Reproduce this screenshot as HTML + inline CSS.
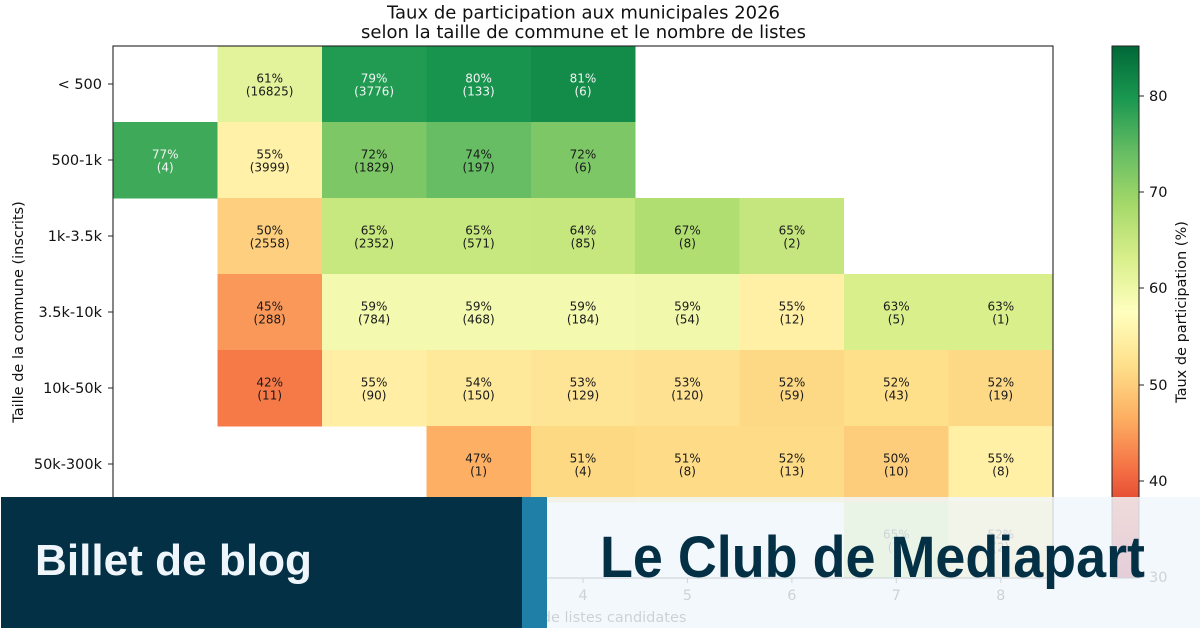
<!DOCTYPE html>
<html>
<head>
<meta charset="utf-8">
<style>
html,body{margin:0;padding:0;background:#fff;}
svg{display:block;}
text{font-family:"DejaVu Sans","Liberation Sans",sans-serif;}
.ann{font-size:12px;text-anchor:middle;fill:#1a1a1a;}
.w{fill:#f4f4f4;}
.tk{font-size:14.5px;fill:#111;}
</style>
</head>
<body>
<svg width="1200" height="628" viewBox="0 0 1200 628" xmlns="http://www.w3.org/2000/svg">
<defs>
<linearGradient id="cb" x1="0" y1="1" x2="0" y2="0">
<stop offset="0" stop-color="#a50026"/>
<stop offset="0.1" stop-color="#d73027"/>
<stop offset="0.2" stop-color="#f46d43"/>
<stop offset="0.3" stop-color="#fdae61"/>
<stop offset="0.4" stop-color="#fee08b"/>
<stop offset="0.5" stop-color="#ffffbf"/>
<stop offset="0.6" stop-color="#d9ef8b"/>
<stop offset="0.7" stop-color="#a6d96a"/>
<stop offset="0.8" stop-color="#66bd63"/>
<stop offset="0.9" stop-color="#1a9850"/>
<stop offset="1" stop-color="#006837"/>
</linearGradient>
</defs>
<rect width="1200" height="628" fill="#fff"/>

<!-- Title -->
<text x="583.5" y="18.5" font-size="18" text-anchor="middle" fill="#111">Taux de participation aux municipales 2026</text>
<text x="583.5" y="38" font-size="18" text-anchor="middle" fill="#111">selon la taille de commune et le nombre de listes</text>

<!-- Cells -->
<g shape-rendering="crispEdges">
<rect x="217.4" y="46" width="104.9" height="76.5" fill="#e3f39b"/>
<rect x="321.9" y="46" width="104.9" height="76.5" fill="#219b52"/>
<rect x="426.3" y="46" width="104.9" height="76.5" fill="#18944e"/>
<rect x="530.8" y="46" width="104.5" height="76.5" fill="#138b49"/>
<rect x="113" y="122" width="104.9" height="76.5" fill="#3da959"/>
<rect x="217.4" y="122" width="104.9" height="76.5" fill="#fff2a8"/>
<rect x="321.9" y="122" width="104.9" height="76.5" fill="#7dc766"/>
<rect x="426.3" y="122" width="104.9" height="76.5" fill="#66bd63"/>
<rect x="530.8" y="122" width="104.5" height="76.5" fill="#7dc766"/>
<rect x="217.4" y="198" width="104.9" height="76.5" fill="#fdcf7e"/>
<rect x="321.9" y="198" width="104.9" height="76.5" fill="#c7e77f"/>
<rect x="426.3" y="198" width="104.9" height="76.5" fill="#c7e77f"/>
<rect x="530.8" y="198" width="104.9" height="76.5" fill="#c6e67e"/>
<rect x="635.2" y="198" width="104.9" height="76.5" fill="#b1de71"/>
<rect x="739.7" y="198" width="104.5" height="76.5" fill="#c5e67e"/>
<rect x="217.4" y="274" width="104.9" height="76.5" fill="#f99858"/>
<rect x="321.9" y="274" width="104.9" height="76.5" fill="#f3f9af"/>
<rect x="426.3" y="274" width="104.9" height="76.5" fill="#f3f9af"/>
<rect x="530.8" y="274" width="104.9" height="76.5" fill="#f3f9af"/>
<rect x="635.2" y="274" width="104.9" height="76.5" fill="#f1f8ac"/>
<rect x="739.7" y="274" width="104.9" height="76.5" fill="#fff0a6"/>
<rect x="844.1" y="274" width="104.9" height="76.5" fill="#d9ef8b"/>
<rect x="948.6" y="274" width="104.4" height="76.5" fill="#d9ef8b"/>
<rect x="217.4" y="350" width="104.9" height="76.5" fill="#f67948"/>
<rect x="321.9" y="350" width="104.9" height="76.5" fill="#ffeea3"/>
<rect x="426.3" y="350" width="104.9" height="76.5" fill="#fee89a"/>
<rect x="530.8" y="350" width="104.9" height="76.5" fill="#fee495"/>
<rect x="635.2" y="350" width="104.9" height="76.5" fill="#fee291"/>
<rect x="739.7" y="350" width="104.9" height="76.5" fill="#fdd985"/>
<rect x="844.1" y="350" width="104.9" height="76.5" fill="#fedf8a"/>
<rect x="948.6" y="350" width="104.4" height="76.5" fill="#fdd985"/>
<rect x="426.3" y="426" width="104.9" height="76.5" fill="#fdb063"/>
<rect x="530.8" y="426" width="104.9" height="76.5" fill="#fed984"/>
<rect x="635.2" y="426" width="104.9" height="76.5" fill="#fedc87"/>
<rect x="739.7" y="426" width="104.9" height="76.5" fill="#fedc87"/>
<rect x="844.1" y="426" width="104.9" height="76.5" fill="#fdcd7c"/>
<rect x="948.6" y="426" width="104.4" height="76.5" fill="#fff0a6"/>
<rect x="844.1" y="502" width="104.9" height="76" fill="#c7e77f"/>
<rect x="948.6" y="502" width="104.4" height="76" fill="#fee08b"/>
</g>

<!-- Annotations -->
<g class="ann">
<text x="269.7" y="82.5">61%</text><text x="269.7" y="95.5">(16825)</text>
<text x="374.1" y="82.5" class="w">79%</text><text x="374.1" y="95.5" class="w">(3776)</text>
<text x="478.6" y="82.5" class="w">80%</text><text x="478.6" y="95.5" class="w">(133)</text>
<text x="583" y="82.5" class="w">81%</text><text x="583" y="95.5" class="w">(6)</text>

<text x="165.2" y="158.5" class="w">77%</text><text x="165.2" y="171.5" class="w">(4)</text>
<text x="269.7" y="158.5">55%</text><text x="269.7" y="171.5">(3999)</text>
<text x="374.1" y="158.5">72%</text><text x="374.1" y="171.5">(1829)</text>
<text x="478.6" y="158.5">74%</text><text x="478.6" y="171.5">(197)</text>
<text x="583" y="158.5">72%</text><text x="583" y="171.5">(6)</text>

<text x="269.7" y="234.5">50%</text><text x="269.7" y="247.5">(2558)</text>
<text x="374.1" y="234.5">65%</text><text x="374.1" y="247.5">(2352)</text>
<text x="478.6" y="234.5">65%</text><text x="478.6" y="247.5">(571)</text>
<text x="583" y="234.5">64%</text><text x="583" y="247.5">(85)</text>
<text x="687.4" y="234.5">67%</text><text x="687.4" y="247.5">(8)</text>
<text x="791.9" y="234.5">65%</text><text x="791.9" y="247.5">(2)</text>

<text x="269.7" y="310.5">45%</text><text x="269.7" y="323.5">(288)</text>
<text x="374.1" y="310.5">59%</text><text x="374.1" y="323.5">(784)</text>
<text x="478.6" y="310.5">59%</text><text x="478.6" y="323.5">(468)</text>
<text x="583" y="310.5">59%</text><text x="583" y="323.5">(184)</text>
<text x="687.4" y="310.5">59%</text><text x="687.4" y="323.5">(54)</text>
<text x="791.9" y="310.5">55%</text><text x="791.9" y="323.5">(12)</text>
<text x="896.3" y="310.5">63%</text><text x="896.3" y="323.5">(5)</text>
<text x="1000.8" y="310.5">63%</text><text x="1000.8" y="323.5">(1)</text>

<text x="269.7" y="386.5">42%</text><text x="269.7" y="399.5">(11)</text>
<text x="374.1" y="386.5">55%</text><text x="374.1" y="399.5">(90)</text>
<text x="478.6" y="386.5">54%</text><text x="478.6" y="399.5">(150)</text>
<text x="583" y="386.5">53%</text><text x="583" y="399.5">(129)</text>
<text x="687.4" y="386.5">53%</text><text x="687.4" y="399.5">(120)</text>
<text x="791.9" y="386.5">52%</text><text x="791.9" y="399.5">(59)</text>
<text x="896.3" y="386.5">52%</text><text x="896.3" y="399.5">(43)</text>
<text x="1000.8" y="386.5">52%</text><text x="1000.8" y="399.5">(19)</text>

<text x="478.6" y="462.5">47%</text><text x="478.6" y="475.5">(1)</text>
<text x="583" y="462.5">51%</text><text x="583" y="475.5">(4)</text>
<text x="687.4" y="462.5">51%</text><text x="687.4" y="475.5">(8)</text>
<text x="791.9" y="462.5">52%</text><text x="791.9" y="475.5">(13)</text>
<text x="896.3" y="462.5">50%</text><text x="896.3" y="475.5">(10)</text>
<text x="1000.8" y="462.5">55%</text><text x="1000.8" y="475.5">(8)</text>

<text x="896.3" y="538.5">65%</text><text x="896.3" y="551.5">(1)</text>
<text x="1000.8" y="538.5">52%</text><text x="1000.8" y="551.5">(2)</text>
</g>

<!-- Axes frame -->
<rect x="113" y="46" width="940" height="532" fill="none" stroke="#222" stroke-width="1.1"/>

<!-- Y ticks -->
<g stroke="#222" stroke-width="1">
<line x1="108" y1="84" x2="113" y2="84"/>
<line x1="108" y1="160" x2="113" y2="160"/>
<line x1="108" y1="236" x2="113" y2="236"/>
<line x1="108" y1="312" x2="113" y2="312"/>
<line x1="108" y1="388" x2="113" y2="388"/>
<line x1="108" y1="464" x2="113" y2="464"/>
<line x1="108" y1="540" x2="113" y2="540"/>
</g>
<g class="tk" text-anchor="end">
<text x="102" y="89">&lt; 500</text>
<text x="102" y="165">500-1k</text>
<text x="102" y="241">1k-3.5k</text>
<text x="102" y="317">3.5k-10k</text>
<text x="102" y="393">10k-50k</text>
<text x="102" y="469">50k-300k</text>
<text x="102" y="545">&gt; 300k</text>
</g>
<text transform="translate(23,312) rotate(-90)" font-size="14.5" text-anchor="middle" fill="#111">Taille de la commune (inscrits)</text>

<!-- X ticks -->
<g stroke="#222" stroke-width="1">
<line x1="165.2" y1="578" x2="165.2" y2="583"/>
<line x1="269.7" y1="578" x2="269.7" y2="583"/>
<line x1="374.1" y1="578" x2="374.1" y2="583"/>
<line x1="478.6" y1="578" x2="478.6" y2="583"/>
<line x1="583" y1="578" x2="583" y2="583"/>
<line x1="687.4" y1="578" x2="687.4" y2="583"/>
<line x1="791.9" y1="578" x2="791.9" y2="583"/>
<line x1="896.3" y1="578" x2="896.3" y2="583"/>
<line x1="1000.8" y1="578" x2="1000.8" y2="583"/>
</g>
<g class="tk" text-anchor="middle">
<text x="165.2" y="600">0</text>
<text x="269.7" y="600">1</text>
<text x="374.1" y="600">2</text>
<text x="478.6" y="600">3</text>
<text x="583" y="600">4</text>
<text x="687.4" y="600">5</text>
<text x="791.9" y="600">6</text>
<text x="896.3" y="600">7</text>
<text x="1000.8" y="600">8</text>
</g>
<text x="583" y="622" font-size="14.5" text-anchor="middle" fill="#111">Nombre de listes candidates</text>

<!-- Colorbar -->
<rect x="1112" y="46" width="27" height="532" fill="url(#cb)" stroke="#222" stroke-width="1"/>
<g stroke="#222" stroke-width="1">
<line x1="1139" y1="96" x2="1144" y2="96"/>
<line x1="1139" y1="192" x2="1144" y2="192"/>
<line x1="1139" y1="288" x2="1144" y2="288"/>
<line x1="1139" y1="385" x2="1144" y2="385"/>
<line x1="1139" y1="481" x2="1144" y2="481"/>
<line x1="1139" y1="577" x2="1144" y2="577"/>
</g>
<g class="tk">
<text x="1149" y="101">80</text>
<text x="1149" y="197">70</text>
<text x="1149" y="293">60</text>
<text x="1149" y="390">50</text>
<text x="1149" y="486">40</text>
<text x="1149" y="582">30</text>
</g>
<text transform="translate(1186,312) rotate(-90)" font-size="14.5" text-anchor="middle" fill="#111">Taux de participation (%)</text>

<!-- Banner overlay -->
<rect x="1" y="497" width="521" height="131" fill="#043046"/>
<rect x="522" y="497" width="25" height="131" fill="#1f7fa6"/>
<rect x="547" y="497" width="653" height="131" fill="rgb(240,247,252)" fill-opacity="0.84"/>
<text x="35" y="575" style="font-family:'Liberation Sans',Arial,sans-serif;font-weight:bold;font-size:44px;" fill="#eef5fb" textLength="277" lengthAdjust="spacingAndGlyphs">Billet de blog</text>
<text x="600" y="577" style="font-family:'Liberation Sans',Arial,sans-serif;font-weight:bold;font-size:58px;" fill="#043046" textLength="545" lengthAdjust="spacingAndGlyphs">Le Club de Mediapart</text>
</svg>
</body>
</html>
